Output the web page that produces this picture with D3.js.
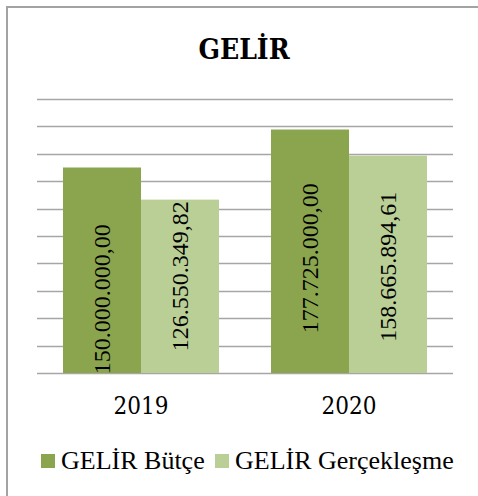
<!DOCTYPE html>
<html><head><meta charset="utf-8">
<script src="https://cdn.jsdelivr.net/npm/d3@7"></script>
<style>body{margin:0;background:#fff}svg{display:block}</style>
</head><body>
<svg id="c" width="478" height="496"></svg>
<script>
const title = "GELİR";
const years = ["2019", "2020"];
const seriesNames = ["GELİR Bütçe", "GELİR Gerçekleşme"];
const budget = [150000000.00, 177725000.00];
const actual = [126550349.82, 158665894.61];
const budgetLabels = ["150.000.000,00", "177.725.000,00"];
const actualLabels = ["126.550.349,82", "158.665.894,61"];
const yTicks = [0, 20e6, 40e6, 60e6, 80e6, 100e6, 120e6, 140e6, 160e6, 180e6, 200e6];

const colors = ["#8aa54e", "#b9cf96"];
const svg = d3.select("#c");

// chart border
svg.append("rect").attr("x", 7).attr("y", 7).attr("width", 480).attr("height", 500)
  .attr("fill", "#fff").attr("stroke", "#a3a3a3").attr("stroke-width", 2);

svg.append("text").attr("x", 244).attr("y", 59).attr("text-anchor", "middle")
  .attr("font-family", "DejaVu Serif").style("font-stretch", "condensed")
  .attr("font-weight", "bold").attr("font-size", "28px").attr("fill", "#000").text(title);

const x0 = d3.scaleBand().domain(years).range([37, 453]).paddingInner(0.25).paddingOuter(0.125);
const x1 = d3.scaleBand().domain(seriesNames).range([0, x0.bandwidth()]);
const y = d3.scaleLinear().domain([0, 200e6]).range([373, 99]);

svg.append("g").selectAll("line").data(yTicks).join("line")
  .attr("x1", 37).attr("x2", 453)
  .attr("y1", d => Math.round(y(d)) + 0.5).attr("y2", d => Math.round(y(d)) + 0.5)
  .attr("stroke", "#a6a6a6").attr("stroke-width", 1.6);

const rows = [];
years.forEach((yr, i) => {
  rows.push({yr, s: seriesNames[0], v: budget[i], lab: budgetLabels[i], c: colors[0]});
  rows.push({yr, s: seriesNames[1], v: actual[i], lab: actualLabels[i], c: colors[1]});
});
const labelShift = [29, -10, 7, 2.5];

svg.append("g").selectAll("rect").data(rows).join("rect")
  .attr("x", d => x0(d.yr) + x1(d.s)).attr("width", x1.bandwidth())
  .attr("y", d => y(d.v)).attr("height", d => y(0) - y(d.v))
  .attr("fill", d => d.c);

const clip = svg.append("clipPath").attr("id", "plotclip");
clip.append("rect").attr("x", 0).attr("y", 0).attr("width", 478).attr("height", 373);

svg.append("g").attr("clip-path", "url(#plotclip)").selectAll("text").data(rows).join("text")
  .attr("transform", (d, i) => {
    const cx = x0(d.yr) + x1(d.s) + x1.bandwidth() / 2;
    const cy = (y(d.v) + y(0)) / 2 + labelShift[i];
    return `translate(${cx},${cy}) rotate(-90)`;
  })
  .attr("text-anchor", "middle").attr("dy", "0.33em")
  .attr("font-family", "Liberation Serif, Times New Roman, serif").attr("font-size", "24px")
  .attr("fill", "#000").text(d => d.lab);

svg.append("g").selectAll("text").data(years).join("text")
  .attr("x", d => x0(d) + x0.bandwidth() / 2).attr("y", 414).attr("text-anchor", "middle")
  .attr("font-family", "DejaVu Serif").style("font-stretch", "condensed").attr("font-size", "24px")
  .attr("fill", "#000").text(d => d);

// legend
const legX = [41, 215];
const lg = svg.append("g").selectAll("g").data(seriesNames).join("g")
  .attr("transform", (d, i) => `translate(${legX[i]},454)`);
lg.append("rect").attr("width", 14).attr("height", 14).attr("fill", (d, i) => colors[i]);
lg.append("text").attr("x", 20).attr("y", 14.5)
  .attr("font-family", "Liberation Serif, Times New Roman, serif").attr("font-size", "26px")
  .attr("fill", "#000").text(d => d);
</script>
</body></html>
